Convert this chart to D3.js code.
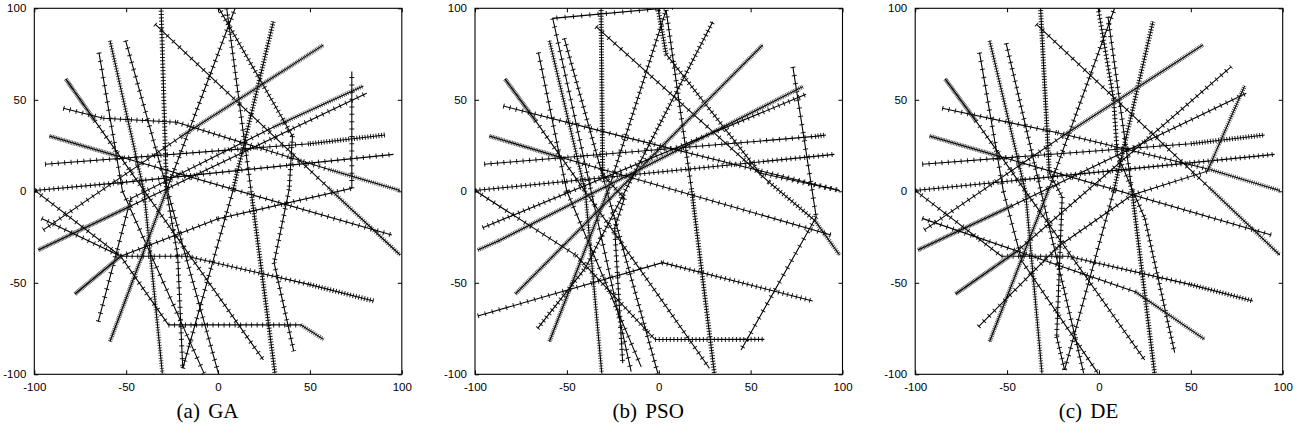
<!DOCTYPE html>
<html><head><meta charset="utf-8">
<script src="https://cdn.jsdelivr.net/npm/d3@7/dist/d3.min.js"></script>
<style>body{margin:0;background:#fff}svg{display:block}</style>
</head><body>
<svg id="chart" width="1307" height="438"></svg>
<script>
// ---- data ----
const panelLabels = ["(a) GA", "(b) PSO", "(c) DE"];
const tickValues = [-100, -50, 0, 50, 100];
const tickLabels = ["-100", "-50", "0", "50", "100"];
// each trajectory: list of [x, y, step] ; step = distance between successive evaluated points after this vertex
const trajGA = [
  [[-31,100.5,1.8],[-28,0,3.5],[-22,-35,3.5],[-19.2,-96.7]],
  [[-58.8,82.3,1.4],[-40.3,0,1.4],[-30.3,-99.5]],
  [[-50.3,82.3,4],[0.2,-99.5]],
  [[-64.8,75.8,4.5],[-52,0,4.5],[-7.6,-99.5]],
  [[-65.2,-71.2,4.5],[-47.5,-4,3.5],[30,35,1.2],[79.1,57.6]],
  [[-34.3,91.3,4.5],[60,2,1.3],[99.1,-34.8]],
  [[0.2,100.5,2.5],[40.5,30.2,3],[38.7,1,3.5],[30.5,-39,3.5],[41.2,-87.4]],
  [[4.7,100,3.5],[18,0,1.5],[31,-99.5]],
  [[-58.8,-82.1,1.0],[-27.5,2,3.5],[9.3,100]],
  [[-82.9,61.4,0.8],[-67,38.5,3.5],[24.7,-92.2]],
  [[-19.2,-96.7,4],[8,0,1.5],[30.1,92.7]],
  [[-95.1,-21.1,3.6],[-20,30,1.0],[57.4,80]],
  [[-97.8,-32.1,0.8],[-47.5,-8,3.5],[80.9,53.6]],
  [[-94.2,14.8,3.5],[50,26,1.5],[90.9,30.8]],
  [[-99.6,0.4,2.5],[-50,5,3.5],[95.5,20.2]],
  [[-99.6,0.4,4],[-53,-35.5,3],[-17,-35.5,2.5],[50,-51,1.6],[84.6,-59.9]],
  [[-96,-14.8,3.5],[-53,-35.5,3.5],[-27,-73,3],[45,-73,1.2],[57.4,-80.9]],
  [[-91.8,30.2,0.9],[-54.8,19.3,3.5],[94.6,-23.9]],
  [[-84.2,45.4,3.5],[-62.4,39.9,3],[-22.5,37.7,3],[60,12,1.2],[99.1,0.4]],
  [[-77.9,-56.1,0.8],[-53,-35.5,3.5],[0,-15,3.5],[72.8,1.6,4],[72.8,65.4]]
];
const trajPSO = [
  [[-31.4,100.5,1.5],[-30.5,9,2],[-18.7,-3.8,3],[-24,-20,3],[-19.6,-94]],
  [[-59.5,82.3,1.4],[-40,0,1.4],[-31,-99.5]],
  [[7.6,100.5,4.5],[-57.7,94.5,4.5],[-15,-98.5]],
  [[-51.4,83.6,3.5],[-0.5,-99.5]],
  [[-65.5,75.8,4.5],[-50,0,4.5],[-9.6,-95.8]],
  [[-34.1,90,4.5],[60,5,2],[85,-16,1.2],[98.4,-34.8]],
  [[73,68,4.5],[85.7,-14,4.5],[44.8,-86.7]],
  [[-0.5,100.5,1.5],[4,75,2.5],[55,10,3],[98.4,0.4]],
  [[4,99,3.5],[18,0,1.5],[30.3,-99.5]],
  [[-59.5,-82.1,1.0],[-27,2,3],[4,99]],
  [[-83.7,61.4,0.8],[-67,38.5,3.5],[27.6,-96.7]],
  [[-78,-56.1,1.0],[56.6,80]],
  [[-98.5,-32.1,1],[-87,-27,1],[78.4,57.2]],
  [[-95.8,-19.9,3],[80.2,53]],
  [[-95,14.8,3.5],[85,30,1.5],[91,30.8]],
  [[-100,0.4,2.5],[95.6,20.2]],
  [[-98.5,-68.1,4],[2,-39,2.5],[83.8,-59.9]],
  [[-100,0.4,4],[-45,-35,3],[-2,-81,2],[57.5,-80.9]],
  [[-92.2,30.2,0.9],[-55,19,3.5],[93.8,-23.9]],
  [[-84.6,46.6,3.5],[-20,30,3],[98.4,0.4]],
  [[-65.9,-74.9,2.5],[-40,-42,2.5],[29.4,92.7]]
];
const trajDE = [
  [[-31.8,100.5,1.5],[-27,10,2.5],[-20,-3,3],[-23,-79.4,3],[-18.7,-97.6]],
  [[-59.5,82.3,1.4],[-40,0,1.4],[-31,-99.5]],
  [[-50.5,80.9,3.5],[-8.3,-99.5]],
  [[-65,75.8,4.5],[-52,0,4.5],[-42,-38,4],[-0.5,-99.5]],
  [[-34.1,91.3,4.5],[60,2,1.3],[98.4,-34.8]],
  [[-0.5,100.5,2],[8,50,2],[10,20,3],[25,-15,3],[41.2,-88.2]],
  [[4.9,95.4,3.5],[18,0,1.5],[30.3,-99.5]],
  [[-59.5,-82.1,1.0],[-27,2,3.5],[8.5,100]],
  [[-83.7,61.4,0.8],[-67,38.5,3.5],[24.9,-92.2]],
  [[-18.7,-97.6,4],[8,0,1.5],[29.4,92.7]],
  [[-95,-21.1,3.6],[-20,30,1.0],[56.6,80]],
  [[-98.5,-32.1,0.8],[-47.5,-8,3.5],[80.2,53.6]],
  [[-96.2,14.8,3.5],[50,26,1.5],[90.2,30.8]],
  [[-100,0.4,2.5],[95.6,20.2]],
  [[-100,0.4,4],[-53,-35.5,3],[-17,-35.5,2.5],[50,-51,1.6],[83.8,-59.9]],
  [[-96.2,-14.8,3.5],[20,-55,1.2],[57.5,-80.9]],
  [[-92.2,30.2,0.9],[-54.8,19.3,3.5],[93.8,-23.9]],
  [[-85.3,45.4,3.5],[-22.5,32,3],[60,12,1.2],[98.4,0.4]],
  [[-78,-56.1,0.8],[-45,-33,3.5],[72,68.1]],
  [[-65.5,-74,4],[-22,-30,3.5],[18,-2,3.5],[59,11,1.2],[79.3,57.6]]
];
const datasets = [trajGA, trajPSO, trajDE];

// ---- layout ----
const panelLeft = [34.3, 475, 915.2];
const panelW = 367.5, plotTop = 8.3, plotBottom = 374.3;
const svg = d3.select("#chart");

datasets.forEach((trajs, pi) => {
  const x = d3.scaleLinear().domain([-100, 100]).range([panelLeft[pi], panelLeft[pi] + panelW]);
  const y = d3.scaleLinear().domain([-100, 100]).range([plotBottom, plotTop]);
  const pxPerUnit = panelW / 200;
  const g = svg.append("g");
  g.append("clipPath").attr("id", "clip" + pi).append("rect")
    .attr("x", x(-100)).attr("y", y(100)).attr("width", x(100) - x(-100)).attr("height", y(-100) - y(100));
  const pg = g.append("g").attr("clip-path", `url(#clip${pi})`);
  const line = d3.line().x(d => x(d[0])).y(d => y(d[1]));
  trajs.forEach(tr => {
    for (let i = 0; i < tr.length - 1; i++) {
      const gap = tr[i][2] * pxPerUnit;
      const dense = gap < 2.6;
      pg.append("path").attr("d", line([tr[i], tr[i + 1]]))
        .attr("fill", "none")
        .attr("stroke", dense ? "#5c5c5c" : "#1e1e1e")
        .attr("stroke-width", dense ? 4.4 : 5)
        .attr("stroke-dasharray", `1 ${Math.max(gap - 1, 0.5)}`);
    }
    pg.append("path").attr("d", line(tr)).attr("fill", "none")
      .attr("stroke", "#000").attr("stroke-width", 1.1);
  });

  // axes (inward ticks on all sides)
  const axB = d3.axisBottom(x).tickValues(tickValues).tickFormat((d, i) => tickLabels[i]).tickSizeInner(-4).tickSizeOuter(0).tickPadding(9);
  const axL = d3.axisLeft(y).tickValues(tickValues).tickFormat((d, i) => tickLabels[i]).tickSizeInner(-4).tickSizeOuter(0).tickPadding(8);
  const axT = d3.axisTop(x).tickValues(tickValues).tickFormat("").tickSizeInner(-4).tickSizeOuter(0);
  const axR = d3.axisRight(y).tickValues(tickValues).tickFormat("").tickSizeInner(-4).tickSizeOuter(0);
  [[axB, `translate(0,${plotBottom})`], [axL, `translate(${x(-100)},0)`], [axT, `translate(0,${plotTop})`], [axR, `translate(${x(100)},0)`]]
    .forEach(([ax, tf]) => {
      const a = g.append("g").attr("transform", tf).call(ax);
      a.select(".domain").remove();
      a.selectAll("line").attr("stroke", "#000").attr("stroke-width", 1);
      a.selectAll("text").attr("font-family", "'Liberation Sans', Arial, sans-serif").attr("font-size", 11.5).attr("fill", "#000");
    });
  g.append("rect").attr("x", x(-100)).attr("y", y(100)).attr("width", x(100) - x(-100)).attr("height", y(-100) - y(100))
    .attr("fill", "none").attr("stroke", "#000").attr("stroke-width", 1.1);

  g.append("text").attr("x", (x(-100) + x(100)) / 2 - 10.5).attr("y", 418)
    .attr("text-anchor", "middle").attr("font-family", "'Liberation Serif', 'Times New Roman', serif")
    .attr("font-size", 21).attr("word-spacing", 3).attr("fill", "#000").text(panelLabels[pi]);
});
</script>
</body></html>
